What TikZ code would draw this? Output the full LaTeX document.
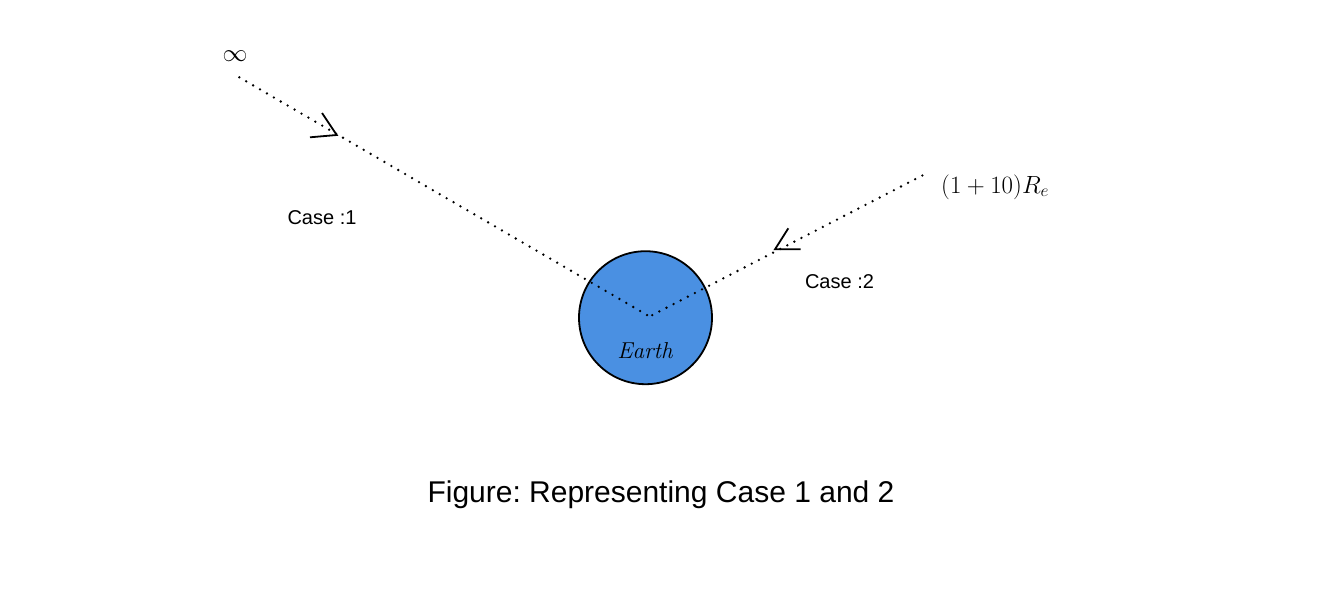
\documentclass[tikz,border=0pt]{standalone}
\usepackage{fontspec}
\setsansfont{Liberation Sans}
\frenchspacing
\begin{document}
\begin{tikzpicture}[x=1pt,y=-1pt,
  path/.style={line width=2.6pt,line cap=round,dash pattern=on 0pt off 8pt},
  chev/.style={line width=1.8pt,line join=miter},
  lbl/.style={font=\sffamily\fontsize{20}{24}\selectfont,anchor=base,inner sep=0pt},
  earth/.style={circle,draw=black,line width=1.8pt,fill=earthblue,minimum size=133pt,inner sep=0pt}]
\definecolor{earthblue}{HTML}{4A90E2}
\useasboundingbox (0,0) rectangle (1323,603);
\node[earth] (E) at (645.5,317.7) {};
\node[anchor=base,inner sep=0pt,font=\fontsize{23}{26}\selectfont] (el) at (645,358) {$\mathit{Earth}$};
\coordinate (A) at (239.3,77.3);
\coordinate (B) at (922.3,175.5);
\coordinate (M) at (649.5,316.5);
\draw[path] (A) -- (M);
\draw[path] (B) -- (M);
\coordinate (c1a) at (322,113);
\coordinate (c1t) at (336.7,135);
\coordinate (c1b) at (310,137.3);
\draw[chev] (c1a) -- (c1t) -- (c1b);
\coordinate (c2a) at (788.3,228.3);
\coordinate (c2t) at (775,249.3);
\coordinate (c2b) at (800.7,249.3);
\draw[chev] (c2a) -- (c2t) -- (c2b);
\node[inner sep=0pt,font=\fontsize{31}{33}\selectfont] (inf) at (235,56) {$\infty$};
\node[anchor=base west,inner sep=0pt,font=\fontsize{25}{28}\selectfont] (re) at (941,193) {$(1+10)R_e$};
\node[lbl] (case1) at (322,224) {Case :1};
\node[lbl] (case2) at (839.5,288) {Case :2};
\node[lbl,font=\sffamily\fontsize{30}{36}\selectfont] (cap) at (661,502) {Figure: Representing Case 1 and 2};
\end{tikzpicture}
\end{document}
